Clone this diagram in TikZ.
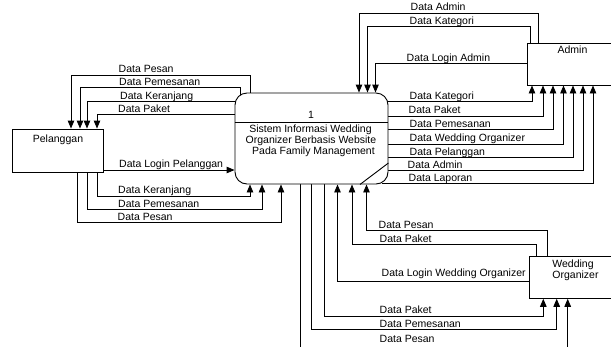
\documentclass[tikz,border=0pt]{standalone}
\usepackage{fontspec}
\setmainfont{Liberation Sans}
\usetikzlibrary{arrows.meta}
\pgfdeclarelayer{bg}
\pgfsetlayers{bg,main}
\begin{document}
\begin{tikzpicture}[x=1pt,y=-1pt,
  every node/.style={font=\fontsize{10.5}{12}\selectfont, inner sep=0pt},
  box/.style={draw, fill=white, line width=0.9pt, inner sep=0pt},
  flow/.style={draw, line width=0.9pt, -{Triangle[length=8pt,width=6.5pt]}},
  lbl/.style={anchor=base west},
  txt/.style={anchor=base}]
\useasboundingbox (0,0) rectangle (611,346);

% entities and process
\node[box, minimum width=153pt, minimum height=91pt, rounded corners=12pt] (proc) at (311.5,138.5) {};
\node[box, minimum width=91pt, minimum height=43pt] (pel) at (57.5,150.5) {};
\node[box, minimum width=88pt, minimum height=42pt] (admin) at (571,64) {};
\node[box, minimum width=86pt, minimum height=41.6pt] (wo) at (572.3,277.5) {};

\draw[line width=0.9pt] (proc.west |- 0,122) -- (proc.east |- 0,122);
\draw[line width=0.9pt] (proc.south -| 360,0) -- (proc.east |- 0,163);

\node[txt] (pnum) at (311,118.5) {1};
\node[txt] (pt1) at (310.5,132.5) {Sistem Informasi Wedding};
\node[txt] (pt2) at (311,143.3) {Organizer Berbasis Website};
\node[txt] (pt3) at (313.5,154.1) {Pada Family Management};
\node[txt] (pelt) at (58,142) {Pelanggan};
\node[txt] (admint) at (572.5,53.5) {Admin};
\node[txt] (wot1) at (573,267) {Wedding};
\node[txt] (wot2) at (575.5,278.5) {Organizer};

\begin{pgfonlayer}{bg}
% process -> Pelanggan (top)
\draw[flow] (proc.north -| 250,0) |- (71,75) -- (pel.north -| 71,0);
\draw[flow] (proc.north -| 240,0) ++(0,8) |- (80,87.5) -- (pel.north -| 80,0);
\draw[flow] (proc.west |- 0,101.5) ++(10,0) -| (pel.north -| 87,0);
\draw[flow] (proc.west |- 0,114.5) -| (pel.north -| 97,0);
% Pelanggan -> process
\draw[flow] (pel.east |- 0,170) -- (proc.west |- 0,170);
\draw[flow] (pel.south -| 97,0) |- (250,196) -- (proc.south -| 250,0);
\draw[flow] (pel.south -| 87,0) |- (262,209.5) -- (proc.south -| 262,0);
\draw[flow] (pel.south -| 77,0) |- (281,222.5) -- (proc.south -| 281,0);
% Admin -> process
\draw[flow] (admin.north -| 538,0) |- (359,13) -- (proc.north -| 359,0);
\draw[flow] (admin.north -| 530,0) |- (367.5,26.7) -- (proc.north -| 367.5,0);
\draw[flow] (admin.west |- 0,63.3) -| (proc.north -| 375.5,0);
% process -> Admin
\draw[flow] (proc.east |- 0,101.7) ++(-6,0) -| (admin.south -| 532,0);
\draw[flow] (proc.east |- 0,116) ++(-6,0) -| (admin.south -| 543,0);
\draw[flow] (proc.east |- 0,129.3) ++(-6,0) -| (admin.south -| 553,0);
\draw[flow] (proc.east |- 0,144) ++(-6,0) -| (admin.south -| 563.5,0);
\draw[flow] (proc.east |- 0,157.3) ++(-6,0) -| (admin.south -| 573,0);
\draw[flow] (proc.east |- 0,170.7) ++(-6,0) -| (admin.south -| 583,0);
\draw[flow] (proc.east |- 0,183.3) ++(-6,0) -| (admin.south -| 593,0);
% Wedding Organizer -> process
\draw[flow] (wo.north -| 547,0) |- (366.5,230.7) -- (proc.south -| 366.5,0);
\draw[flow] (wo.north -| 536,0) |- (352,244) -- (proc.south -| 352,0);
\draw[flow] (wo.west |- 0,281.7) -| (proc.south -| 337.5,0);
% process -> Wedding Organizer
\draw[flow] (proc.south -| 324,0) |- (543.3,316.7) -- (wo.south -| 543.3,0);
\draw[flow] (proc.south -| 311.7,0) |- (556.7,329.3) -- (wo.south -| 556.7,0);
\draw[flow] (proc.south -| 300,0) |- (567.7,350) -- (wo.south -| 567.7,0);
\end{pgfonlayer}

% labels
\node[lbl] (l1) at (118.5,72.5) {Data Pesan};
\node[lbl] (l2) at (119,85.3) {Data Pemesanan};
\node[lbl] (l3) at (120,99.3) {Data Keranjang};
\node[lbl] (l4) at (118,112.3) {Data Paket};
\node[lbl] (l5) at (119,167.5) {Data Login Pelanggan};
\node[lbl] (l6) at (118,193.5) {Data Keranjang};
\node[lbl] (l7) at (118,207.5) {Data Pemesanan};
\node[lbl] (l8) at (117.5,220.5) {Data Pesan};

\node[lbl] (a1) at (410.5,10.5) {Data Admin};
\node[lbl] (a2) at (409.5,24.5) {Data Kategori};
\node[lbl] (a3) at (406.5,61) {Data Login Admin};
\node[lbl] (a4) at (409.5,99.5) {Data Kategori};
\node[lbl] (a5) at (408.5,113.8) {Data Paket};
\node[lbl] (a6) at (409.5,127.1) {Data Pemesanan};
\node[lbl] (a7) at (409.5,141.8) {Data Wedding Organizer};
\node[lbl] (a8) at (409.5,155.1) {Data Pelanggan};
\node[lbl] (a9) at (407.5,168.5) {Data Admin};
\node[lbl] (a10) at (408.5,181.1) {Data Laporan};

\node[lbl] (w1) at (378.5,228.5) {Data Pesan};
\node[lbl] (w2) at (379.5,242) {Data Paket};
\node[lbl] (w3) at (381.5,276) {Data Login Wedding Organizer};
\node[lbl] (w4) at (379.5,313.5) {Data Paket};
\node[lbl] (w5) at (379.5,327) {Data Pemesanan};
\node[lbl] (w6) at (379.5,342.5) {Data Pesan};
\end{tikzpicture}
\end{document}
